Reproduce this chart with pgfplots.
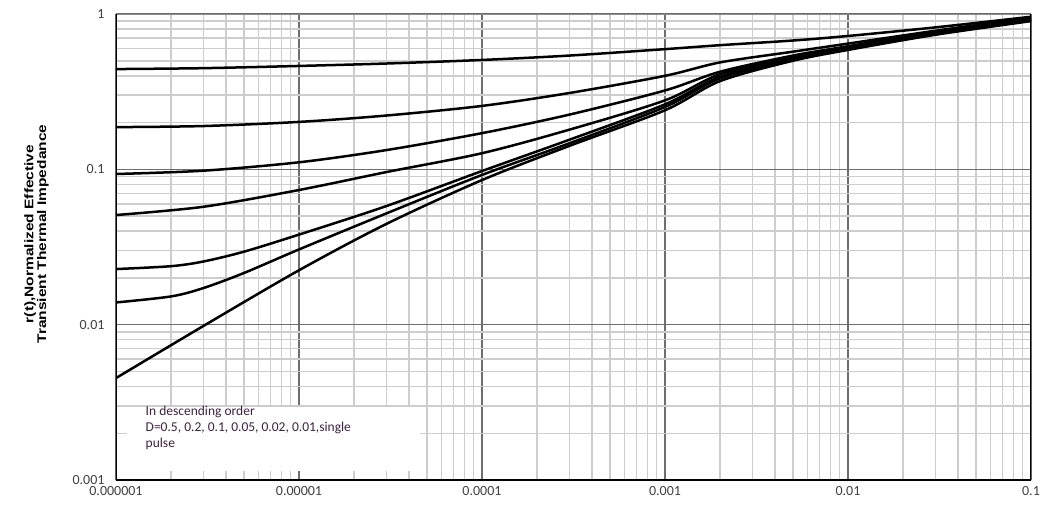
\documentclass[border=0pt]{standalone}
\usepackage{pgfplots}
\pgfplotsset{compat=1.18}
\usepackage{fontspec}
\setmainfont{Carlito}
\newfontfamily\labfont{Liberation Sans}
\definecolor{majgrid}{HTML}{6E6E6E}
\definecolor{mingrid}{HTML}{CDCDCD}
\definecolor{ticktxt}{HTML}{404040}
\definecolor{notetxt}{RGB}{62,32,66}
\begin{document}
\begin{tikzpicture}
\begin{loglogaxis}[
  scale only axis,
  width=915pt, height=466pt,
  at={(0,0)}, anchor=south west,
  xmin=1e-6, xmax=0.1, ymin=0.001, ymax=1,
  xtick={1e-6,1e-5,1e-4,1e-3,1e-2,1e-1},
  xticklabels={0.000001,0.00001,0.0001,0.001,0.01,0.1},
  ytick={0.001,0.01,0.1,1},
  yticklabels={0.001,0.01,0.1,1},
  minor xtick={2e-6,3e-6,4e-6,5e-6,6e-6,7e-6,8e-6,9e-6,
               2e-5,3e-5,4e-5,5e-5,6e-5,7e-5,8e-5,9e-5,
               2e-4,3e-4,4e-4,5e-4,6e-4,7e-4,8e-4,9e-4,
               2e-3,3e-3,4e-3,5e-3,6e-3,7e-3,8e-3,9e-3,
               2e-2,3e-2,4e-2,5e-2,6e-2,7e-2,8e-2,9e-2},
  minor ytick={2e-3,3e-3,4e-3,5e-3,6e-3,7e-3,8e-3,9e-3,
               2e-2,3e-2,4e-2,5e-2,6e-2,7e-2,8e-2,9e-2,
               0.2,0.3,0.4,0.5,0.6,0.7,0.8,0.9},
  grid=both,
  major grid style={draw=majgrid, line width=1.6pt},
  minor grid style={draw=mingrid, line width=1.5pt},
  tick style={draw=none},
  major tick length=0pt, minor tick length=0pt,
  axis line style={draw=none},
  tick label style={font=\fontsize{14}{16}\selectfont, text=ticktxt},
  xticklabel style={yshift=-3pt},
  yticklabel style={xshift=-8pt},
  curve/.style={black, solid, line width=2.5pt, mark=none, smooth, tension=0.5},
]
\fill[white] (axis cs:1.15e-6,0.00115) rectangle (axis cs:4.6e-5,0.00295);
\node[anchor=north west, align=left, text=notetxt, font=\fontsize{13.5}{16}\selectfont, inner sep=0pt]
  at (axis cs:1.45e-6,0.00298) {In descending order\\D=0.5, 0.2, 0.1, 0.05, 0.02, 0.01,single\\pulse};
% D=0.5
\addplot[curve] coordinates {(1e-6,0.442)(3e-6,0.448)(1e-5,0.463)(3e-5,0.48)(1e-4,0.506)(3e-4,0.54)(1e-3,0.594)(2e-3,0.63)(5e-3,0.675)(1e-2,0.722)(3e-2,0.82)(0.1,0.96)};
% D=0.2
\addplot[curve] coordinates {(1e-6,0.187)(3e-6,0.19)(1e-5,0.202)(3e-5,0.222)(1e-4,0.256)(3e-4,0.31)(1e-3,0.40)(2e-3,0.488)(5e-3,0.572)(1e-2,0.645)(3e-2,0.78)(0.1,0.95)};
% D=0.1
\addplot[curve] coordinates {(1e-6,0.0933)(3e-6,0.098)(1e-5,0.111)(3e-5,0.133)(1e-4,0.171)(3e-4,0.225)(1e-3,0.322)(2e-3,0.425)(5e-3,0.54)(1e-2,0.62)(3e-2,0.77)(0.1,0.93)};
% D=0.05
\addplot[curve] coordinates {(1e-6,0.0508)(3e-6,0.0574)(1e-5,0.0736)(3e-5,0.096)(1e-4,0.127)(3e-4,0.18)(1e-3,0.278)(2e-3,0.41)(5e-3,0.53)(1e-2,0.61)(3e-2,0.76)(0.1,0.92)};
% D=0.02
\addplot[curve] coordinates {(1e-6,0.0228)(2e-6,0.0238)(3e-6,0.0255)(5e-6,0.0295)(1e-5,0.038)(3e-5,0.058)(1e-4,0.0975)(3e-4,0.155)(1e-3,0.262)(2e-3,0.395)(5e-3,0.52)(1e-2,0.60)(3e-2,0.75)(0.1,0.915)};
% D=0.01
\addplot[curve] coordinates {(1e-6,0.0139)(2e-6,0.0152)(3e-6,0.0172)(5e-6,0.0215)(1e-5,0.0305)(3e-5,0.052)(1e-4,0.092)(3e-4,0.147)(1e-3,0.252)(2e-3,0.385)(5e-3,0.51)(1e-2,0.593)(3e-2,0.742)(0.1,0.91)};
% single pulse
\addplot[curve] coordinates {(1e-6,0.00453)(3e-6,0.0098)(1e-5,0.0224)(3e-5,0.0445)(1e-4,0.0853)(3e-4,0.1415)(1e-3,0.24)(2e-3,0.37)(5e-3,0.5)(1e-2,0.587)(3e-2,0.735)(0.1,0.9)};
% axis frame
\draw[majgrid!80, line width=1.6pt] (rel axis cs:0,1) -- (rel axis cs:1,1);
\draw[black, line width=2.6pt] (rel axis cs:0,1) -- (rel axis cs:0,0) -- (rel axis cs:1,0) -- (rel axis cs:1,1);
\end{loglogaxis}
\node[rotate=90, align=center, font=\labfont\bfseries\fontsize{12.5}{11.5}\selectfont, inner sep=0pt]
  at (-79.5pt,246pt) {\scalebox{1.24}[1]{r(t),Normalized Effective}\\\scalebox{1.24}[1]{Transient Thermal Impedance}};
\pgfresetboundingbox
\path (-116pt,-25pt) rectangle (927pt,480pt);
\end{tikzpicture}
\end{document}
